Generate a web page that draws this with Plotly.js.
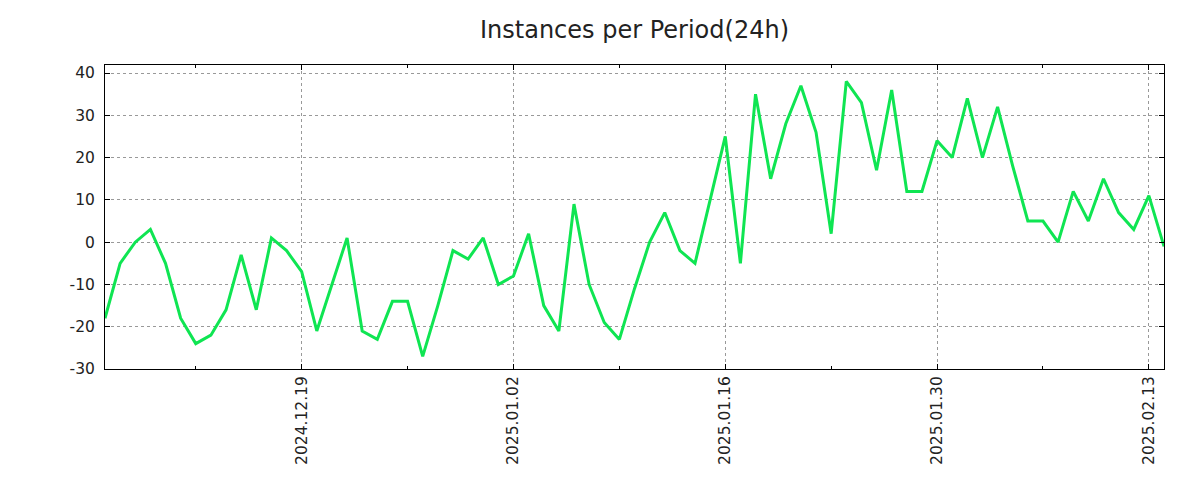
<!DOCTYPE html>
<html>
<head>
<meta charset="utf-8">
<script src="https://cdn.plot.ly/plotly-3.0.1.min.js"></script>
<style>html,body{margin:0;padding:0;background:#fff;}#chart{width:1200px;height:500px;}</style>
</head>
<body>
<div id="chart"></div>
<script>
const dates = [
  "2024-12-06","2024-12-07","2024-12-08","2024-12-09","2024-12-10","2024-12-11","2024-12-12",
  "2024-12-13","2024-12-14","2024-12-15","2024-12-16","2024-12-17","2024-12-18","2024-12-19",
  "2024-12-20","2024-12-21","2024-12-22","2024-12-23","2024-12-24","2024-12-25","2024-12-26",
  "2024-12-27","2024-12-28","2024-12-29","2024-12-30","2024-12-31","2025-01-01","2025-01-02",
  "2025-01-03","2025-01-04","2025-01-05","2025-01-06","2025-01-07","2025-01-08","2025-01-09",
  "2025-01-10","2025-01-11","2025-01-12","2025-01-13","2025-01-14","2025-01-15","2025-01-16",
  "2025-01-17","2025-01-18","2025-01-19","2025-01-20","2025-01-21","2025-01-22","2025-01-23",
  "2025-01-24","2025-01-25","2025-01-26","2025-01-27","2025-01-28","2025-01-29","2025-01-30",
  "2025-01-31","2025-02-01","2025-02-02","2025-02-03","2025-02-04","2025-02-05","2025-02-06",
  "2025-02-07","2025-02-08","2025-02-09","2025-02-10","2025-02-11","2025-02-12","2025-02-13",
  "2025-02-14"
];
const instances = [
  -18, -5, 0, 3, -5, -18, -24,
  -22, -16, -3, -16, 1, -2, -7,
  -21, -10, 1, -21, -23, -14, -14,
  -27, -15, -2, -4, 1, -10, -8,
  2, -15, -21, 9, -10, -19, -23,
  -11, 0, 7, -2, -5, 10, 25,
  -5, 35, 15, 28, 37, 26, 2,
  38, 33, 17, 36, 12, 12, 24,
  20, 34, 20, 32, 18, 5, 5,
  0, 12, 5, 15, 7, 3, 11,
  -1
];
const chartTitle = "Instances per Period(24h)";
const yTicks = [-30, -20, -10, 0, 10, 20, 30, 40];
const yTickText = ["-30", "-20", "-10", "0", "10", "20", "30", "40"];

const DAY = 86400000;
const fontFam = "DejaVu Sans, sans-serif";

const trace = {
  x: dates,
  y: instances,
  type: "scatter",
  mode: "lines",
  line: {color: "#0fe552", width: 3},
  hoverinfo: "skip"
};

const layout = {
  width: 1200,
  height: 500,
  margin: {l: 105, r: 36, t: 65, b: 131, pad: 0},
  paper_bgcolor: "#fff",
  plot_bgcolor: "#fff",
  showlegend: false,
  font: {family: fontFam, color: "#222", size: 15.5},
  title: {
    text: chartTitle,
    font: {family: fontFam, size: 24, color: "#222"},
    x: 0.5, xref: "paper", xanchor: "center",
    y: 1 - 30/500, yref: "container", yanchor: "middle"
  },
  xaxis: {
    type: "date",
    range: [dates[0], dates[dates.length - 1]],
    tick0: "2024-12-19",
    dtick: 14 * DAY,
    tickformat: "%Y.%m.%d",
    tickangle: -90,
    ticks: "inside",
    ticklen: 5,
    tickcolor: "#000",
    tickwidth: 1,
    mirror: "allticks",
    showline: true,
    linecolor: "#000",
    linewidth: 1,
    showgrid: true,
    gridcolor: "#999",
    griddash: "dot",
    gridwidth: 1,
    zeroline: false,
    tickfont: {family: fontFam, size: 15.5, color: "#222"},
    minor: {
      tick0: "2024-12-12",
      dtick: 14 * DAY,
      ticks: "inside",
      ticklen: 3,
      tickcolor: "#000",
      showgrid: false
    }
  },
  yaxis: {
    range: [-30, 41.9],
    tickvals: yTicks,
    ticktext: yTickText,
    ticks: "inside",
    ticklen: 5,
    tickcolor: "#000",
    tickwidth: 1,
    mirror: "allticks",
    showline: true,
    linecolor: "#000",
    linewidth: 1,
    showgrid: true,
    gridcolor: "#999",
    griddash: "dot",
    gridwidth: 1,
    zeroline: false,
    ticklabelstandoff: 6,
    tickfont: {family: fontFam, size: 15.5, color: "#222"}
  }
};

Plotly.newPlot("chart", [trace], layout, {staticPlot: true, displayModeBar: false});
</script>
</body>
</html>
